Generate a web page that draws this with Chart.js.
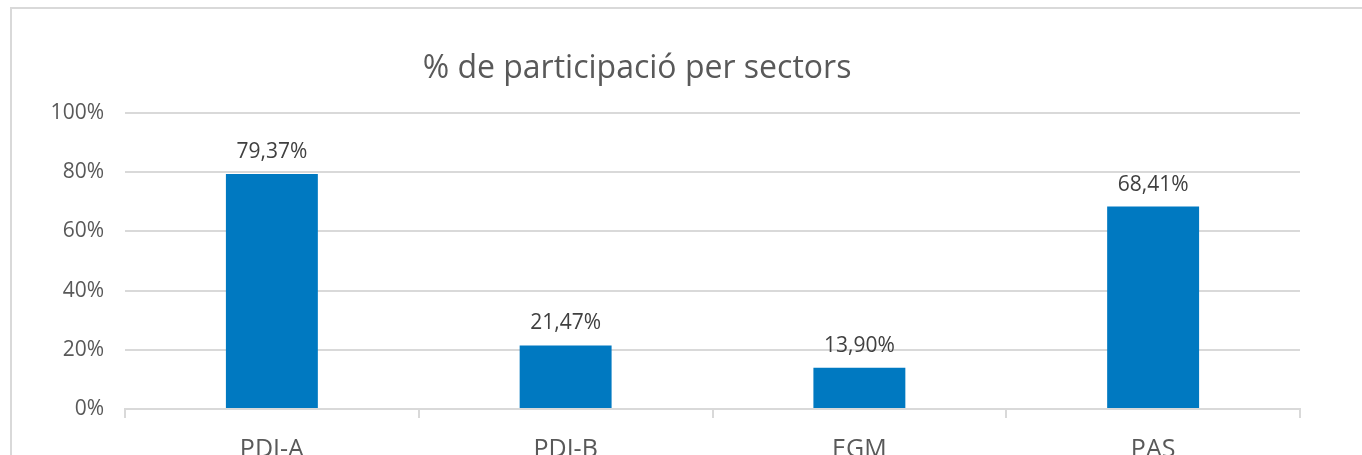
<!DOCTYPE html>
<html>
<head>
<meta charset="utf-8">
<script src="https://cdn.jsdelivr.net/npm/chart.js@4.4.1/dist/chart.umd.min.js"></script>
<style>
  html, body { margin: 0; padding: 0; background: #fff; overflow: hidden; }
  #wrap { width: 1362px; height: 455px; position: relative; }
</style>
</head>
<body>
<div id="wrap"><canvas id="myChart" width="1362" height="455"></canvas></div>
<script>
const chartTitle = '% de participació per sectors';
const sectors = ['PDI-A', 'PDI-B', 'EGM', 'PAS'];
const participation = [79.37, 21.47, 13.90, 68.41]; // in %

const fontFamily = "'Open Sans', 'DejaVu Sans', sans-serif";

// outer frame + title, like the spreadsheet chart
const framePlugin = {
  id: 'frame',
  beforeDraw(chart) {
    const c = chart.ctx;
    c.save();
    c.strokeStyle = '#d9d9d9';
    c.lineWidth = 2;
    c.strokeRect(11, 8, chart.width + 20, chart.height + 20);
    c.fillStyle = '#595959';
    c.font = '32px ' + fontFamily;
    c.textAlign = 'center';
    c.textBaseline = 'middle';
    c.fillText(chartTitle, 637, 69);
    c.restore();
  }
};

// value labels above each bar
const valueLabels = {
  id: 'valueLabels',
  afterDatasetsDraw(chart) {
    const c = chart.ctx;
    const meta = chart.getDatasetMeta(0);
    c.save();
    c.fillStyle = '#404040';
    c.font = '21px ' + fontFamily;
    c.textAlign = 'center';
    c.textBaseline = 'alphabetic';
    meta.data.forEach((bar, i) => {
      const txt = participation[i].toFixed(2).replace('.', ',') + '%';
      c.fillText(txt, bar.x, bar.y - 16);
    });
    c.restore();
  }
};

const ctx = document.getElementById('myChart').getContext('2d');
const chart = new Chart(ctx, {
  type: 'bar',
  data: {
    labels: sectors,
    datasets: [{
      data: participation,
      backgroundColor: '#0079c1',
      categoryPercentage: 1,
      barPercentage: 0.313
    }]
  },
  options: {
    responsive: false,
    animation: false,
    layout: { padding: { left: 0, right: 62, top: 113, bottom: 0 } },
    plugins: {
      legend: { display: false },
      title: { display: false },
      tooltip: { enabled: false }
    },
    scales: {
      y: {
        min: 0,
        max: 100,
        ticks: {
          stepSize: 20,
          color: '#595959',
          font: { family: fontFamily, size: 21 },
          padding: 21,
          callback: v => v + '%'
        },
        grid: { color: '#d9d9d9', lineWidth: 2, drawTicks: false },
        border: { display: false },
        afterFit(scale) { scale.width = 125; }
      },
      x: {
        ticks: {
          color: '#595959',
          font: { family: fontFamily, size: 25 },
          padding: 17
        },
        grid: {
          drawOnChartArea: false,
          color: '#d9d9d9',
          lineWidth: 2,
          tickLength: 9,
          offset: true
        },
        border: { color: '#d9d9d9', width: 2 },
        afterFit(scale) { scale.height = 46; }
      }
    }
  },
  plugins: [framePlugin, valueLabels]
});
</script>
</body>
</html>
